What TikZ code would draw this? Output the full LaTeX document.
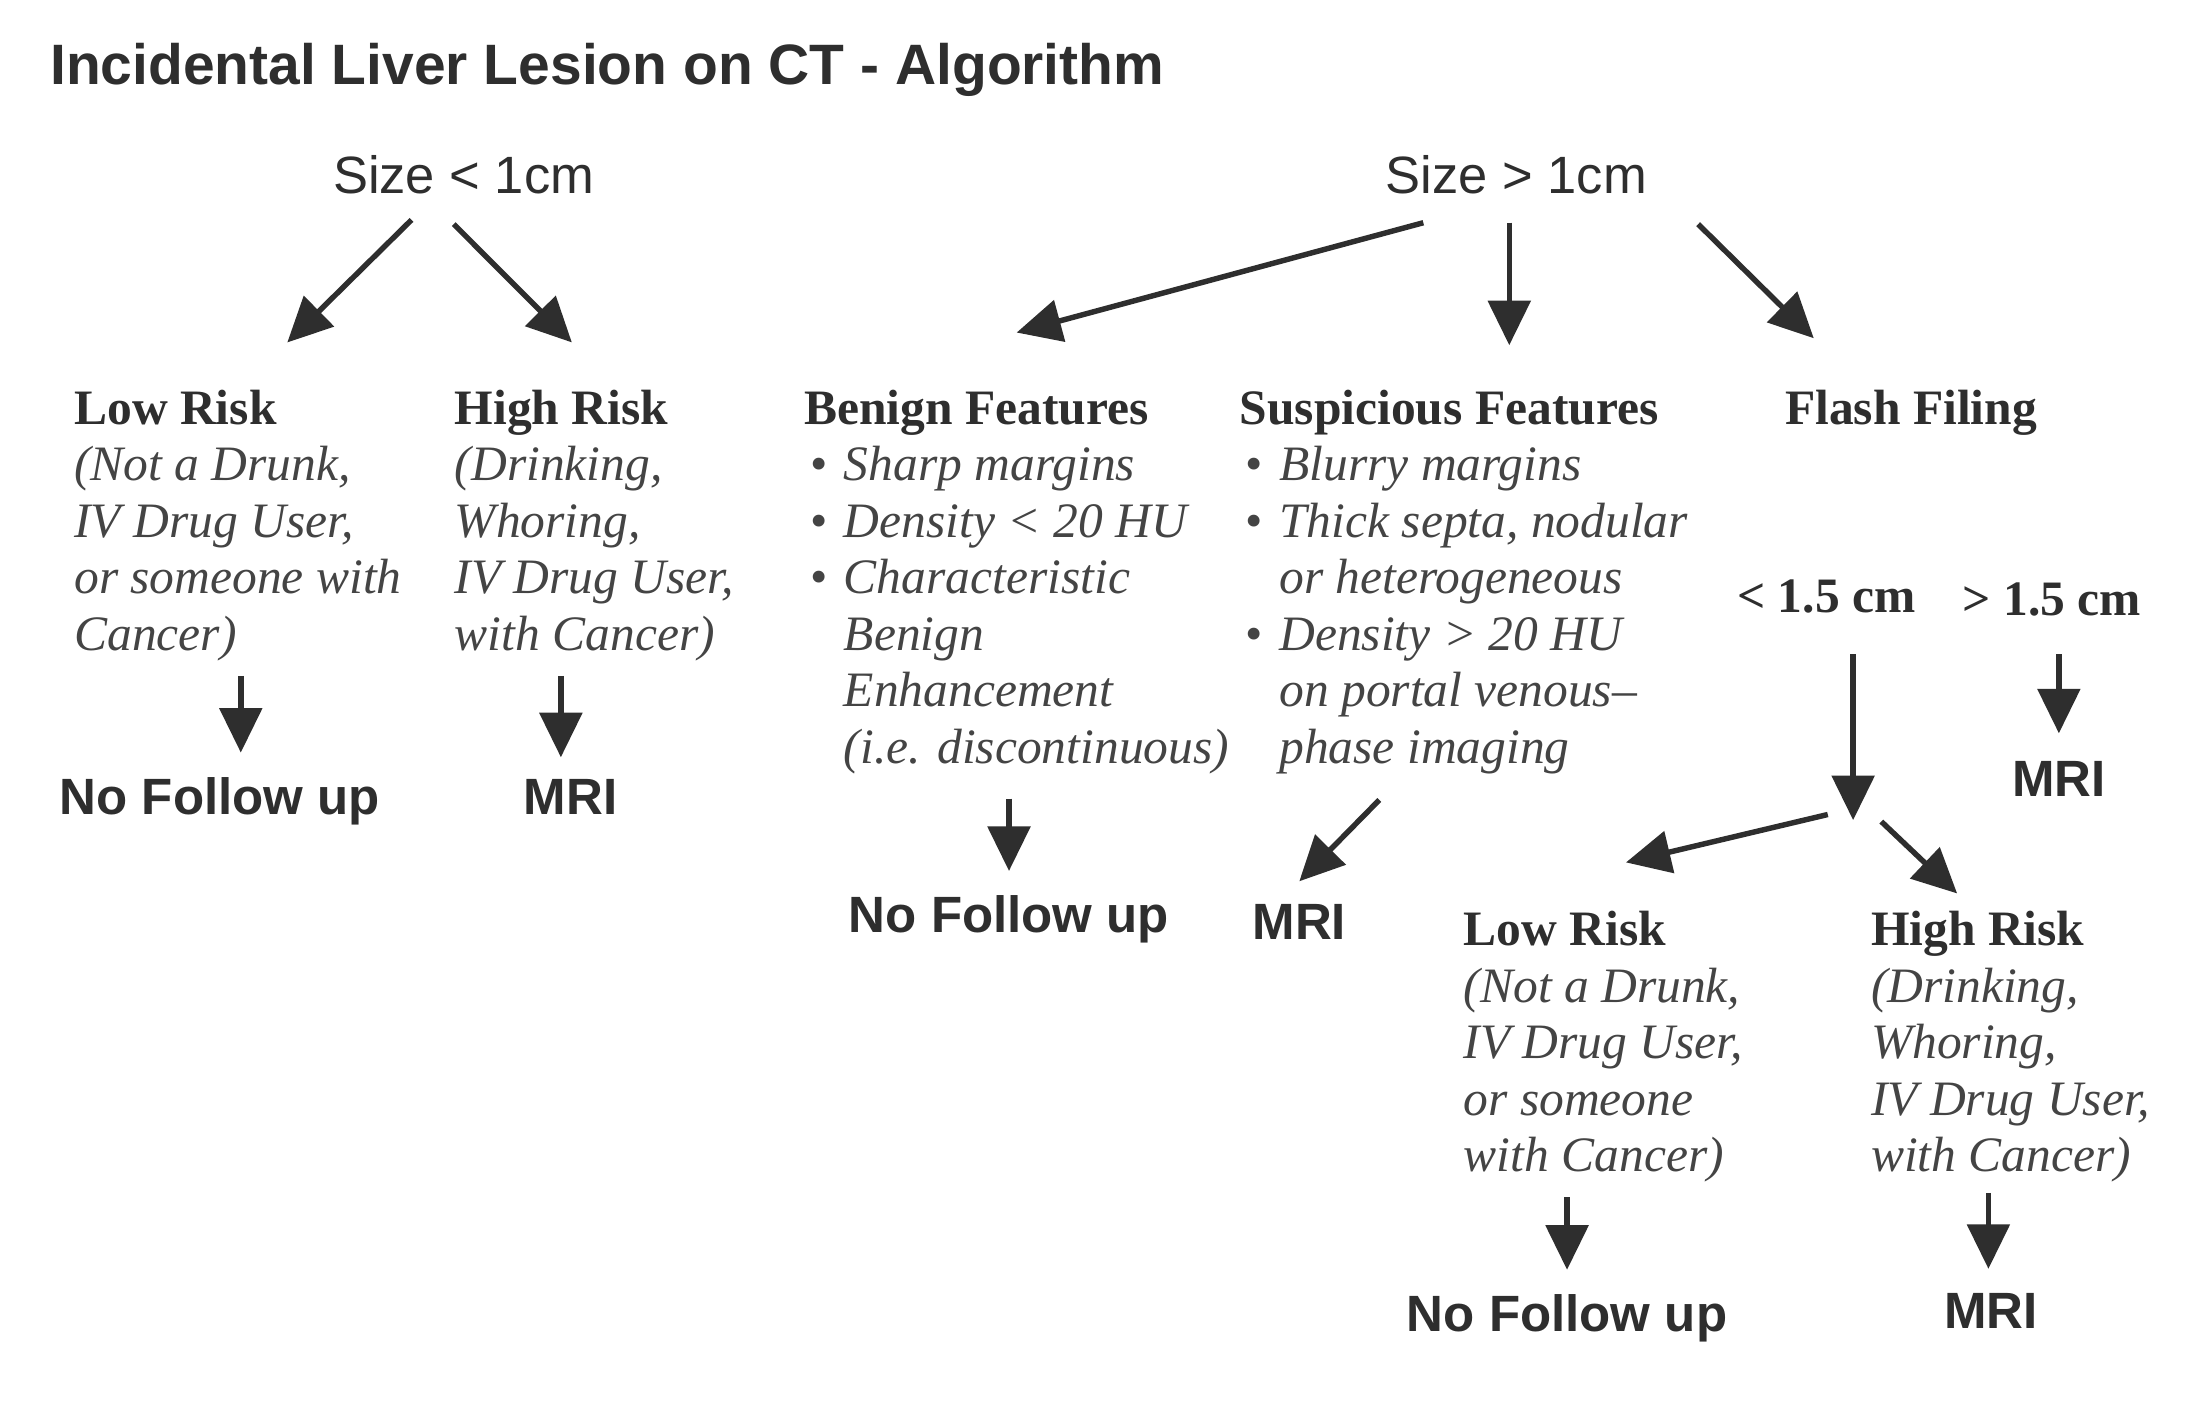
\documentclass[tikz,border=0pt]{standalone}
\usepackage{fontspec}
\setmainfont{Liberation Serif}
\setsansfont{Liberation Sans}
\usetikzlibrary{calc, arrows.meta}

\definecolor{ink}{HTML}{2E2E2E}
\definecolor{soft}{HTML}{444444}
\newcommand{\hd}[1]{{\normalfont\bfseries\color{ink}#1}}
\newcommand{\bulitem}[1]{\makebox[8pt][l]{\upshape\hspace{1.2pt}\textbullet}#1}
\newcommand{\contitem}[1]{\hspace*{8pt}#1}

\tikzset{
  arr/.style = {-{Triangle[length=9pt, width=8.5pt]}, line width=1.1pt, draw=ink},
  sizelab/.style = {anchor=base, inner sep=0, text=ink, font=\sffamily\fontsize{10.6}{12}\selectfont},
  result/.style = {anchor=base, inner sep=0, text=ink, font=\sffamily\bfseries\fontsize{10.3}{12}\selectfont},
  block/.style = {anchor=north west, align=left, inner sep=0, text=soft, font=\itshape\fontsize{10}{11.4}\selectfont},
  cut/.style = {anchor=base, inner sep=0, text=ink, font=\bfseries\fontsize{10}{12}\selectfont}
}

\begin{document}
\begin{tikzpicture}[x=0.1mm, y=-0.1mm]
  \fill[white] (0,0) rectangle (1564,1005);
  \useasboundingbox (0,0) rectangle (1564,1005);

  % title
  \node[anchor=base west, inner sep=0, text=ink, font=\sffamily\bfseries\fontsize{11.5}{13}\selectfont] (title) at (35,60) {Incidental Liver Lesion on CT - Algorithm};

  % size split
  \node[sizelab] (small) at (329,137) {Size < 1cm};
  \node[sizelab] (large) at (1076,137) {Size > 1cm};

  % size < 1cm
  \node[block] (lowA) at (52,276) {\hd{Low Risk}\\(Not a Drunk,\\IV Drug User,\\or someone with\\Cancer)};
  \node[block] (highA) at (322,276) {\hd{High Risk}\\(Drinking,\\Whoring,\\IV Drug User,\\with Cancer)};
  \node[result] (nfuA) at (156,578) {No Follow up};
  \node[result] (mriA) at (405,578) {MRI};

  % size > 1cm
  \node[block] (benign) at (570,276) {\hd{Benign Features}\\\bulitem{Sharp margins}\\\bulitem{Density < 20 HU}\\\bulitem{Characteristic}\\\contitem{Benign}\\\contitem{Enhancement}\\\contitem{(i.e. discontinuous)}};
  \node[block] (susp) at (879,276) {\hd{Suspicious Features}\\\bulitem{Blurry margins}\\\bulitem{Thick septa, nodular}\\\contitem{or heterogeneous}\\\bulitem{Density > 20 HU}\\\contitem{on portal venous\textendash}\\\contitem{phase imaging}};
  \node[block] (flash) at (1266,276) {\hd{Flash Filing}};
  \node[result] (nfuB) at (716,662) {No Follow up};
  \node[result] (mriB) at (922,667) {MRI};

  % flash filing
  \node[cut] (lt) at (1296,435) {< 1.5 cm};
  \node[cut] (gt) at (1456,437) {> 1.5 cm};
  \node[result] (mriC) at (1461,565) {MRI};
  \coordinate (fork) at (1315,582);
  \node[block] (lowB) at (1038,646) {\hd{Low Risk}\\(Not a Drunk,\\IV Drug User,\\or someone\\with Cancer)};
  \node[block] (highB) at (1327,646) {\hd{High Risk}\\(Drinking,\\Whoring,\\IV Drug User,\\with Cancer)};
  \node[result] (nfuC) at (1112,945) {No Follow up};
  \node[result] (mriD) at (1413,943) {MRI};

  % arrows
  \draw[arr] ($(small.south)+(-37,18)$) -- ($(lowA.north)+(35,-33)$);
  \draw[arr] ($(small.south)+(-7,21)$) -- ($(highA.north)+(-16,-33)$);
  \draw[arr] ($(lowA.south)+(2,10)$) -- ($(lowA.south |- nfuA.north)+(2,-17)$);
  \draw[arr] ($(mriA.north |- highA.south)+(-7,10)$) -- ($(mriA.north)+(-7,-15)$);

  \draw[arr] ($(large.south)+(-66,20)$) -- ($(benign.north)+(0,-40)$);
  \draw[arr] ($(large.south)+(-5,20)$) -- ($(large.south |- susp.north)+(-5,-31)$);
  \draw[arr] ($(large.south)+(129,21)$) -- ($(flash.north)+(-69,-36)$);
  \draw[arr] ($(nfuB.north |- benign.south)+(0,17)$) -- ($(nfuB.north)+(0,-17)$);
  \draw[arr] ($(susp.south)+(-60,18)$) -- ($(mriB.north)+(0,-16)$);

  \draw[arr] ($(fork |- lt.south)+(0,28)$) -- (fork);
  \draw[arr] ($(mriC.north |- gt.south)+(0,26)$) -- ($(mriC.north)+(0,-19)$);
  \draw[arr] ($(fork)+(-18,-4)$) -- ($(lowB.north)+(16,-34)$);
  \draw[arr] ($(fork)+(20,1)$) -- ($(highB.north)+(-38,-12)$);
  \draw[arr] ($(nfuC.north |- lowB.south)+(0,10)$) -- ($(nfuC.north)+(0,-17)$);
  \draw[arr] ($(mriD.north |- highB.south)+(-2,7)$) -- ($(mriD.north)+(-2,-17)$);
\end{tikzpicture}
\end{document}
